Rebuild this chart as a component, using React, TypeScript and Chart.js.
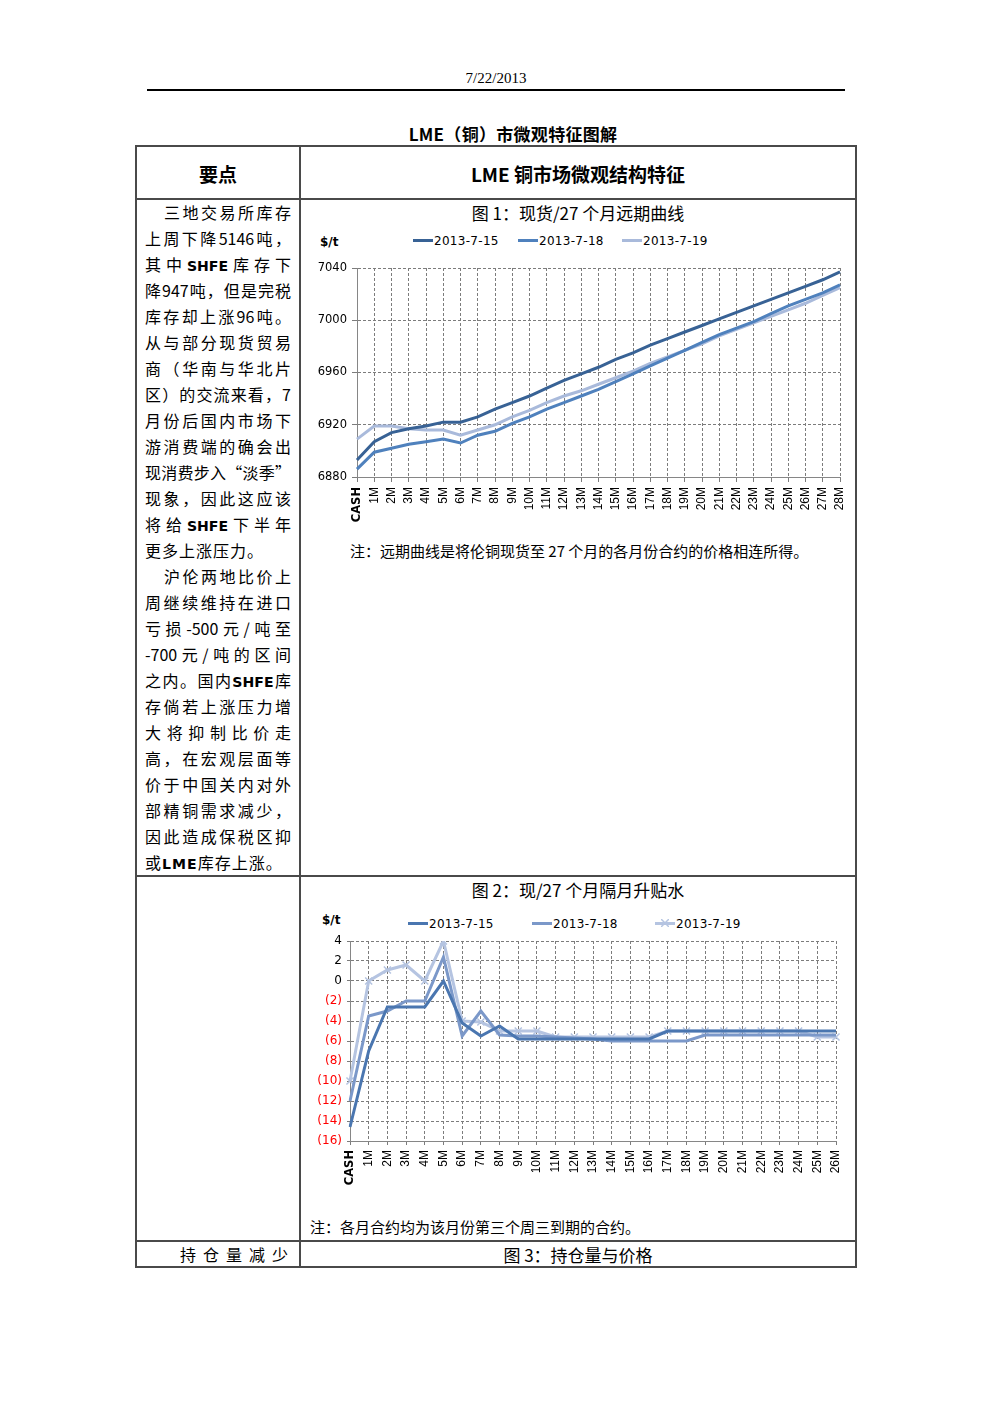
import React, { useEffect, useRef } from 'react';
import { Chart, registerables } from 'chart.js';

Chart.register(...registerables);

// ---------- Figure 1: forward curve ----------
const curveLabels = ['CASH', '1M', '2M', '3M', '4M', '5M', '6M', '7M', '8M', '9M', '10M', '11M', '12M', '13M', '14M', '15M', '16M', '17M', '18M', '19M', '20M', '21M', '22M', '23M', '24M', '25M', '26M', '27M', '28M'];
const curve0715 = [6893, 6907, 6914, 6917, 6919, 6922, 6922, 6926, 6932, 6937, 6942, 6948, 6954, 6959, 6964, 6970, 6975, 6981, 6986, 6991, 6996, 7001, 7006, 7011, 7016, 7021, 7026, 7031, 7037];
const curve0718 = [6886, 6899, 6902, 6905, 6907, 6909, 6906, 6912, 6915, 6921, 6926, 6932, 6937, 6942, 6947, 6953, 6959, 6965, 6971, 6977, 6983, 6989, 6994, 6999, 7005, 7011, 7016, 7021, 7027];
const curve0719 = [6909, 6919, 6919, 6917, 6916, 6916, 6912, 6916, 6920, 6926, 6931, 6937, 6942, 6946, 6951, 6956, 6961, 6967, 6972, 6977, 6982, 6988, 6993, 6998, 7003, 7008, 7013, 7019, 7025];
const curveMin = 6880;
const curveMax = 7040;
const curveStep = 40;

// ---------- Figure 2: month-to-month spreads ----------
const spreadLabels = ['CASH', '1M', '2M', '3M', '4M', '5M', '6M', '7M', '8M', '9M', '10M', '11M', '12M', '13M', '14M', '15M', '16M', '17M', '18M', '19M', '20M', '21M', '22M', '23M', '24M', '25M', '26M'];
const spread0715 = [-14.6, -7, -2.6, -2.6, -2.6, 0, -4.2, -5.5, -4.5, -5.8, -5.8, -5.8, -5.8, -5.8, -5.8, -5.8, -5.8, -5, -5, -5, -5, -5, -5, -5, -5, -5, -5];
const spread0718 = [-12, -3.5, -3, -2, -2, 2.4, -5.5, -3, -5.4, -5.5, -5.5, -5.6, -5.7, -5.8, -6, -6, -6, -6, -6, -5.4, -5.4, -5.4, -5.4, -5.4, -5.4, -5.4, -5.4];
const spread0719 = [-10, 0, 1.1, 1.6, 0, 4, -4, -4.1, -5, -5, -5, -5.6, -5.6, -5.6, -5.6, -5.6, -5.6, -5, -5, -5, -5, -5, -5, -5, -5, -5.6, -5.6];
const spreadMin = -16;
const spreadMax = 4;
const spreadStep = 2;

const seriesNames = ['2013-7-15', '2013-7-18', '2013-7-19'];
const curveColors = ['#386295', '#4F81BD', '#A9BADB'];
const spreadColors = ['#4A76B0', '#7B98C9', '#B5C4E1'];

// ---------- Text ----------
const leftLines = [
  '三地交易所库存',
  '上周下降5146吨，',
  '其中SHFE库存下',
  '降947吨，但是完税',
  '库存却上涨96吨。',
  '从与部分现货贸易',
  '商（华南与华北片',
  '区）的交流来看，7',
  '月份后国内市场下',
  '游消费端的确会出',
  '现消费步入“淡季”',
  '现象，因此这应该',
  '将给SHFE下半年',
  '更多上涨压力。',
  '沪伦两地比价上',
  '周继续维持在进口',
  '亏损-500元/吨至',
  '-700元/吨的区间',
  '之内。国内SHFE库',
  '存倘若上涨压力增',
  '大将抑制比价走',
  '高，在宏观层面等',
  '价于中国关内对外',
  '部精铜需求减少，',
  '因此造成保税区抑',
  '或LME库存上涨。',
];
const indentLines = [0, 14];
const lastLines = [13, 25];

const CJK = '"Noto Sans CJK SC", "Noto Sans", sans-serif';
const NUM = '"DejaVu Sans", "Liberation Sans", sans-serif';
const MONTH = '"Liberation Sans", "DejaVu Sans", sans-serif';

function richText(s: string) {
  const parts = s.split(/(SHFE|LME)/);
  return parts.map((p, i) =>
    p === 'SHFE' || p === 'LME' ? (
      <b key={i} style={{ fontFamily: '"DejaVu Sans", sans-serif', fontSize: '0.88em' }}>{p}</b>
    ) : (
      <span key={i}>{p}</span>
    )
  );
}

function CText(props: { cx: number; cy: number; size: number; bold?: boolean; family?: string; spacing?: number; children: React.ReactNode }) {
  const lh = props.size + 8;
  return (
    <div
      style={{
        position: 'absolute',
        left: props.cx - 300,
        width: 600,
        top: props.cy - lh / 2,
        height: lh,
        lineHeight: lh + 'px',
        textAlign: 'center',
        fontSize: props.size,
        fontWeight: props.bold ? 700 : 400,
        fontFamily: props.family || CJK,
        letterSpacing: props.spacing || 0,
        color: '#000',
        whiteSpace: 'nowrap',
      }}
    >
      {props.children}
    </div>
  );
}

function LText(props: { x: number; cy: number; size: number; bold?: boolean; family?: string; color?: string; spacing?: number; children: React.ReactNode }) {
  const lh = props.size + 8;
  return (
    <div
      style={{
        position: 'absolute',
        left: props.x,
        top: props.cy - lh / 2,
        height: lh,
        lineHeight: lh + 'px',
        fontSize: props.size,
        fontWeight: props.bold ? 700 : 400,
        fontFamily: props.family || CJK,
        color: props.color || '#000',
        letterSpacing: props.spacing || 0,
        whiteSpace: 'nowrap',
      }}
    >
      {props.children}
    </div>
  );
}

function Rule(props: { x: number; y: number; w: number; h: number; color?: string }) {
  return <div style={{ position: 'absolute', left: props.x, top: props.y, width: props.w, height: props.h, background: props.color || '#4a4a4a' }} />;
}

function LegendItem(props: { x: number; cy: number; color: string; label: string; cross?: boolean }) {
  return (
    <>
      <div style={{ position: 'absolute', left: props.x, top: props.cy - 1.5, width: 20, height: 3, background: props.color }} />
      {props.cross ? (
        <svg style={{ position: 'absolute', left: props.x + 6, top: props.cy - 4 }} width={8} height={8}>
          <line x1={0} y1={0} x2={8} y2={8} stroke={props.color} strokeWidth={1.5} />
          <line x1={8} y1={0} x2={0} y2={8} stroke={props.color} strokeWidth={1.5} />
        </svg>
      ) : null}
      <LText x={props.x + 21} cy={props.cy + 1} size={12} family={NUM} spacing={0.3}>
        {props.label}
      </LText>
    </>
  );
}

const gridColor = '#7c7c7c';
const zeroPad = (s: any) => {
  s.paddingLeft = 0;
  s.paddingRight = 0;
  s.paddingTop = 0;
  s.paddingBottom = 0;
};

function CurveChart() {
  const ref = useRef<HTMLCanvasElement>(null);
  useEffect(() => {
    const chart = new Chart(ref.current as HTMLCanvasElement, {
      type: 'line',
      data: {
        labels: curveLabels,
        datasets: [
          { label: seriesNames[0], data: curve0715, borderColor: curveColors[0], backgroundColor: curveColors[0] },
          { label: seriesNames[1], data: curve0718, borderColor: curveColors[1], backgroundColor: curveColors[1] },
          { label: seriesNames[2], data: curve0719, borderColor: curveColors[2], backgroundColor: curveColors[2] },
        ],
      },
      options: {
        responsive: false,
        animation: false,
        layout: { padding: { top: 8, right: 10, left: 0, bottom: 0 } },
        plugins: { legend: { display: false }, tooltip: { enabled: false } },
        elements: { point: { radius: 0 }, line: { borderWidth: 3, tension: 0 } },
        scales: {
          x: {
            offset: false,
            grid: { color: gridColor, lineWidth: 1, tickLength: 5, tickColor: gridColor, drawTicks: true },
            border: { display: true, color: '#868686', width: 1, dash: [3, 2] },
            ticks: {
              autoSkip: false,
              maxRotation: 90,
              minRotation: 90,
              padding: 5,
              color: '#000',
              font: (c: any) => ({ family: c.index === 0 ? NUM : MONTH, size: c.index === 0 ? 11.5 : 12, weight: c.index === 0 ? 'bold' : 'normal' }),
            },
            afterFit: (s: any) => {
              s.height = 50;
              zeroPad(s);
            },
          },
          y: {
            min: curveMin,
            max: curveMax,
            grid: { color: gridColor, lineWidth: 1, tickLength: 5, tickColor: gridColor },
            border: { display: true, color: '#868686', width: 1, dash: [3, 2] },
            ticks: {
              stepSize: curveStep,
              padding: 5,
              color: '#000',
              font: { family: NUM, size: 11.5 },
              callback: (v: any) => String(v),
            },
            afterFit: (s: any) => {
              s.width = 52;
              zeroPad(s);
            },
          },
        },
      },
    } as any);
    return () => chart.destroy();
  }, []);
  return <canvas ref={ref} width={545} height={267} style={{ position: 'absolute', left: 305, top: 260 }} />;
}

function SpreadChart() {
  const ref = useRef<HTMLCanvasElement>(null);
  useEffect(() => {
    const chart = new Chart(ref.current as HTMLCanvasElement, {
      type: 'line',
      data: {
        labels: spreadLabels,
        datasets: [
          { label: seriesNames[0], data: spread0715, borderColor: spreadColors[0], backgroundColor: spreadColors[0], pointRadius: 0 },
          { label: seriesNames[1], data: spread0718, borderColor: spreadColors[1], backgroundColor: spreadColors[1], pointRadius: 0 },
          {
            label: seriesNames[2],
            data: spread0719,
            borderColor: spreadColors[2],
            backgroundColor: spreadColors[2],
            pointStyle: 'crossRot',
            pointRadius: 5,
            pointBorderWidth: 1.5,
            pointBorderColor: spreadColors[2],
          },
        ],
      },
      options: {
        responsive: false,
        animation: false,
        layout: { padding: { top: 9, right: 14, left: 0, bottom: 0 } },
        plugins: { legend: { display: false }, tooltip: { enabled: false } },
        elements: { line: { borderWidth: 3, tension: 0 } },
        scales: {
          x: {
            offset: false,
            grid: { color: gridColor, lineWidth: 1, tickLength: 4, tickColor: gridColor, drawTicks: true },
            border: { display: true, color: '#868686', width: 1, dash: [3, 2] },
            ticks: {
              autoSkip: false,
              maxRotation: 90,
              minRotation: 90,
              padding: 5,
              color: '#000',
              font: (c: any) => ({ family: c.index === 0 ? NUM : MONTH, size: c.index === 0 ? 11.5 : 12, weight: c.index === 0 ? 'bold' : 'normal' }),
            },
            afterFit: (s: any) => {
              s.height = 50;
              zeroPad(s);
            },
          },
          y: {
            min: spreadMin,
            max: spreadMax,
            grid: { color: gridColor, lineWidth: 1, tickLength: 3, tickColor: gridColor },
            border: { display: true, color: '#868686', width: 1, dash: [3, 2] },
            ticks: {
              stepSize: spreadStep,
              padding: 5,
              color: (c: any) => (c.tick && c.tick.value < 0 ? '#ff0000' : '#000'),
              font: { family: NUM, size: 12 },
              callback: (v: any) => (Number(v) < 0 ? '(' + -Number(v) + ')' : String(v)),
            },
            afterFit: (s: any) => {
              s.width = 50;
              zeroPad(s);
            },
          },
        },
      },
    } as any);
    return () => chart.destroy();
  }, []);
  return <canvas ref={ref} width={550} height={259} style={{ position: 'absolute', left: 300, top: 932 }} />;
}

export default function App() {
  return (
    <div style={{ position: 'absolute', left: 0, top: 0, width: 992, height: 1403, background: '#fff', fontFamily: CJK, overflow: 'hidden' }}>
      {/* page header */}
      <CText cx={496} cy={78} size={15} family={'"Liberation Serif", "DejaVu Serif", serif'}>
        7/22/2013
      </CText>
      <Rule x={147} y={89} w={698} h={2} color="#000" />

      <CText cx={513} cy={133} size={17} bold spacing={0.3}>
        LME（铜）市微观特征图解
      </CText>

      {/* table frame */}
      <Rule x={135} y={145} w={721} h={2} />
      <Rule x={135} y={1266} w={721} h={2} />
      <Rule x={135} y={145} w={2} h={1123} />
      <Rule x={855} y={145} w={2} h={1123} />
      <Rule x={299} y={145} w={2} h={1123} />
      <Rule x={135} y={198} w={721} h={2} />
      <Rule x={135} y={875} w={721} h={2} />
      <Rule x={135} y={1240} w={721} h={2} />

      <CText cx={218} cy={173} size={19} bold>
        要点
      </CText>
      <CText cx={578} cy={173} size={19} bold>
        LME 铜市场微观结构特征
      </CText>

      {/* left column text */}
      <div style={{ position: 'absolute', left: 145, top: 199, width: 146 }}>
        {leftLines.map((l, i) => (
          <div
            key={i}
            style={{
              height: 26,
              lineHeight: '26px',
              fontSize: 16,
              paddingLeft: indentLines.includes(i) ? 19 : 0,
              textAlign: 'justify',
              textAlignLast: lastLines.includes(i) ? 'left' : 'justify',
              letterSpacing: lastLines.includes(i) ? 1 : 0,
              whiteSpace: 'nowrap',
              color: '#000',
            } as any}
          >
            {richText(l)}
          </div>
        ))}
      </div>

      {/* figure 1 */}
      <CText cx={578} cy={212} size={17}>
        图 1：现货/27 个月远期曲线
      </CText>
      <LText x={320} cy={242} size={12} bold family={NUM}>
        $/t
      </LText>
      <LegendItem x={413} cy={240} color={curveColors[0]} label={seriesNames[0]} />
      <LegendItem x={518} cy={240} color={curveColors[1]} label={seriesNames[1]} />
      <LegendItem x={622} cy={240} color={curveColors[2]} label={seriesNames[2]} />
      <CurveChart />
      <LText x={350} cy={550} size={15}>
        注：远期曲线是将伦铜现货至 27 个月的各月份合约的价格相连所得。
      </LText>

      {/* figure 2 */}
      <CText cx={578} cy={889} size={17}>
        图 2：现/27 个月隔月升贴水
      </CText>
      <LText x={322} cy={920} size={12} bold family={NUM}>
        $/t
      </LText>
      <LegendItem x={408} cy={923} color={spreadColors[0]} label={seriesNames[0]} />
      <LegendItem x={532} cy={923} color={spreadColors[1]} label={seriesNames[1]} />
      <LegendItem x={655} cy={923} color={spreadColors[2]} label={seriesNames[2]} cross />
      <SpreadChart />
      <LText x={310} cy={1226} size={15}>
        注：各月合约均为该月份第三个周三到期的合约。
      </LText>

      {/* row 4 */}
      <LText x={180} cy={1254} size={16} spacing={7}>
        持仓量减少
      </LText>
      <CText cx={578} cy={1254} size={17}>
        图 3：持仓量与价格
      </CText>
    </div>
  );
}
